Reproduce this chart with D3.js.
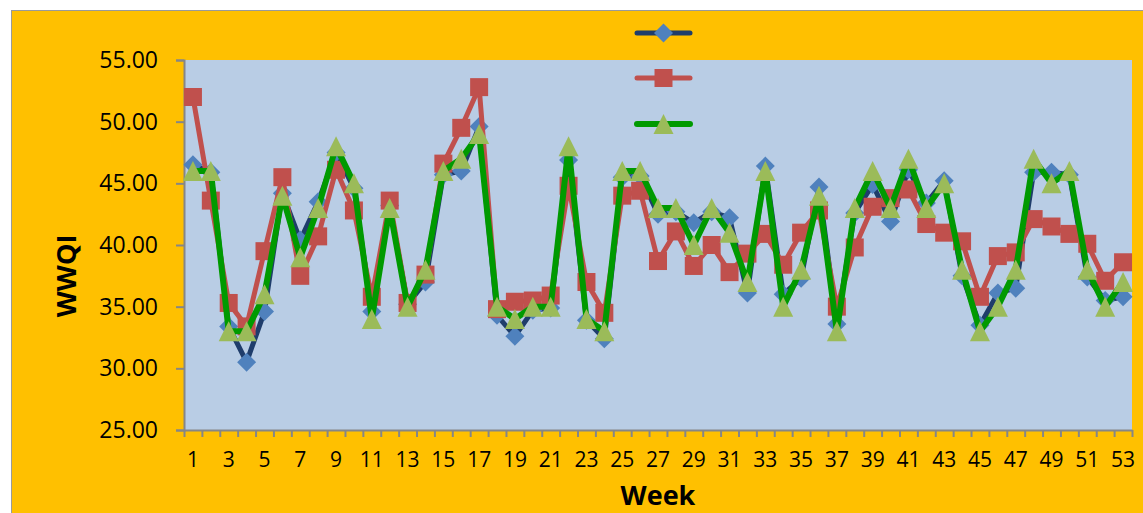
<!DOCTYPE html>
<html>
<head>
<meta charset="utf-8">
<script src="https://cdn.jsdelivr.net/npm/d3@7"></script>
<style>
  html, body { margin: 0; padding: 0; background: #ffffff; }
  svg { display: block; }
  text { font-family: "Open Sans", "Noto Sans", sans-serif; fill: #000; }
</style>
</head>
<body>
<svg id="chart" width="1143" height="513"></svg>
<script>
// Weekly WWQI values for three series
const weeks = d3.range(1, 54);
const seriesA = [46.5, 45.9, 33.4, 30.5, 34.6, 44.2, 40.4, 43.5, 47.5, 44.6,
                 34.6, 43.2, 35.2, 37.0, 45.7, 46.0, 49.6, 34.3, 32.6, 34.7,
                 34.9, 46.9, 33.9, 32.4, 45.5, 45.6, 42.5, 42.7, 41.8, 42.7,
                 42.2, 36.1, 46.4, 36.0, 37.3, 44.7, 33.6, 42.6, 44.9, 41.9,
                 46.1, 43.4, 45.2, 37.5, 33.5, 36.1, 36.5, 45.9, 45.9, 45.7,
                 37.4, 35.5, 35.8];
const seriesB = [52.0, 43.6, 35.3, 33.4, 39.5, 45.5, 37.5, 40.7, 46.1, 42.8,
                 35.8, 43.6, 35.3, 37.6, 46.6, 49.5, 52.8, 34.8, 35.4, 35.5,
                 35.9, 44.8, 37.0, 34.5, 44.0, 44.4, 38.7, 41.1, 38.3, 40.0,
                 37.8, 39.3, 40.9, 38.4, 41.0, 42.8, 35.0, 39.8, 43.1, 43.8,
                 44.5, 41.7, 41.0, 40.3, 35.8, 39.1, 39.4, 42.1, 41.5, 40.9,
                 40.1, 37.1, 38.6];
const seriesC = [46, 46, 33, 33, 36, 44, 39, 43, 48, 45,
                 34, 43, 35, 38, 46, 47, 49, 35, 34, 35,
                 35, 48, 34, 33, 46, 46, 43, 43, 40, 43,
                 41, 37, 46, 35, 38, 44, 33, 43, 46, 43,
                 47, 43, 45, 38, 33, 35, 38, 47, 45, 46,
                 38, 35, 37];
const yTicks = [25, 30, 35, 40, 45, 50, 55];
const xTickLabels = weeks.filter(w => w % 2 === 1);
const yTitle = "WWQI";
const xTitle = "Week";

const svg = d3.select("#chart");
const W = 1143, H = 513;
const plot = { left: 184, right: 1132, top: 60, bottom: 430 };

// chart area: orange panel with a thin grey border
svg.append("rect").attr("x", 11.5).attr("y", 10.5)
  .attr("width", W).attr("height", H)
  .attr("fill", "#FFC000").attr("stroke", "#9a9a9a").attr("stroke-width", 1);

// plot area
svg.append("rect").attr("x", plot.left).attr("y", plot.top)
  .attr("width", plot.right - plot.left).attr("height", plot.bottom - plot.top)
  .attr("fill", "#B9CDE5");

const x = d3.scaleBand().domain(weeks).range([plot.left, plot.right]).padding(0);
const xc = w => x(w) + x.bandwidth() / 2;
const xEdge = d3.scaleLinear().domain([0, weeks.length]).range([plot.left, plot.right]);
const y = d3.scaleLinear().domain([25, 55]).range([plot.bottom, plot.top]);

// y axis
const yAxis = svg.append("g").attr("transform", `translate(${plot.left},0)`)
  .call(d3.axisLeft(y).tickValues(yTicks).tickFormat(d3.format(".2f")).tickSize(8).tickPadding(18));
yAxis.select(".domain").attr("stroke", "#868686").attr("stroke-width", 2);
yAxis.selectAll(".tick line").attr("stroke", "#868686").attr("stroke-width", 2);
yAxis.selectAll(".tick text").attr("font-size", 23).attr("font-family", "Open Sans").attr("fill", "#000");

// x axis: tick marks between categories
const xTickAxis = svg.append("g").attr("transform", `translate(0,${plot.bottom})`)
  .call(d3.axisBottom(xEdge).tickValues(d3.range(0, weeks.length + 1)).tickFormat("").tickSize(7).tickSizeOuter(0));
xTickAxis.select(".domain").attr("stroke", "#868686").attr("stroke-width", 2);
xTickAxis.selectAll(".tick line").attr("stroke", "#868686").attr("stroke-width", 2);

// x axis labels at category centres
const xLabelAxis = svg.append("g").attr("transform", `translate(0,${plot.bottom})`)
  .call(d3.axisBottom(x).tickValues(xTickLabels).tickSize(0).tickPadding(22));
xLabelAxis.select(".domain").remove();
xLabelAxis.selectAll(".tick text").attr("font-size", 21).attr("font-family", "Open Sans").attr("fill", "#000");

// axis titles
svg.append("text").attr("transform", "translate(76,276) rotate(-90)")
  .attr("text-anchor", "middle").attr("font-size", 27).attr("font-weight", "bold").text(yTitle);
svg.append("text").attr("x", 658).attr("y", 505)
  .attr("text-anchor", "middle").attr("font-size", 27).attr("font-weight", "bold").text(xTitle);

// marker shapes
const diamond = { draw(ctx, size) { const r = Math.sqrt(size) / 2; ctx.moveTo(0, -r); ctx.lineTo(r, 0); ctx.lineTo(0, r); ctx.lineTo(-r, 0); ctx.closePath(); } };
const square = { draw(ctx, size) { const r = Math.sqrt(size) / 2; ctx.rect(-r, -r, 2 * r, 2 * r); } };
const triangle = { draw(ctx, size) { const r = Math.sqrt(size) / 2; ctx.moveTo(0, -r); ctx.lineTo(r, r); ctx.lineTo(-r, r); ctx.closePath(); } };

const series = [
  { values: seriesA, line: "#1F3D6B", lw: 5, fill: "#4F81BD", shape: diamond, size: 19 * 19 },
  { values: seriesB, line: "#C0504D", lw: 5, fill: "#C0504D", shape: square, size: 18 * 18 },
  { values: seriesC, line: "#009A00", lw: 6, fill: "#9BBB59", shape: triangle, size: 20 * 20 }
];

const line = d3.line().x((d, i) => xc(weeks[i])).y(d => y(d));

series.forEach(s => {
  const g = svg.append("g");
  g.append("path").datum(s.values).attr("d", line)
    .attr("fill", "none").attr("stroke", s.line).attr("stroke-width", s.lw)
    .attr("stroke-linejoin", "round").attr("stroke-linecap", "round");
  g.selectAll("path.m").data(s.values).join("path").attr("class", "m")
    .attr("transform", (d, i) => `translate(${xc(weeks[i])},${y(d)})`)
    .attr("d", d3.symbol(s.shape, s.size))
    .attr("fill", s.fill);
});

// legend (entries carry no text)
const legendY = [33, 78, 124];
const legendX = d3.scaleLinear().domain([0, 1]).range([637, 690]);
series.forEach((s, i) => {
  const g = svg.append("g").attr("transform", `translate(0,${legendY[i]})`);
  g.append("line").attr("x1", legendX(0)).attr("x2", legendX(1))
    .attr("stroke", s.line).attr("stroke-width", s.lw).attr("stroke-linecap", "round");
  g.append("path").attr("transform", `translate(${legendX(0.5)},0)`)
    .attr("d", d3.symbol(s.shape, s.size)).attr("fill", s.fill);
});
</script>
</body>
</html>
